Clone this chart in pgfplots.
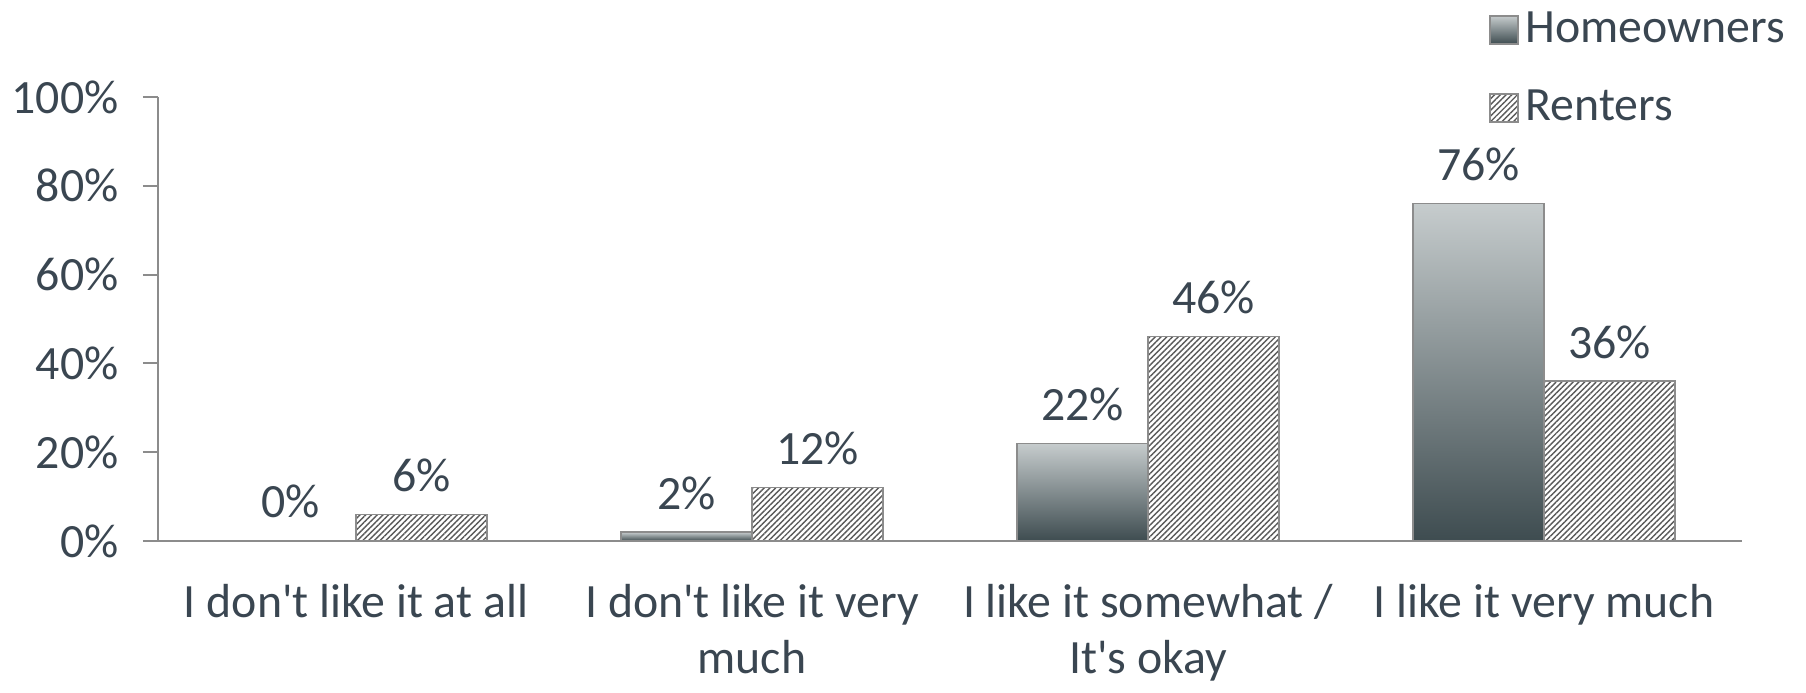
\documentclass[border=0pt]{standalone}
\usepackage{pgfplots}
\pgfplotsset{compat=1.18}
\usetikzlibrary{patterns.meta}
\usepackage{fontspec}
\setmainfont{Carlito}

\definecolor{txt}{HTML}{3A4651}
\definecolor{axisgray}{HTML}{8C8C8C}
\definecolor{barlight}{HTML}{C6CCCD}
\definecolor{bardark}{HTML}{3E4C50}

\pgfplotsset{
    owner/.style={draw=black!45, line width=0.4pt, top color=barlight, bottom color=bardark, bar shift=-6.55mm},
    renter/.style={draw=black!45, line width=0.4pt, fill=white,
        pattern={Lines[angle=45,distance=1.15pt,line width=0.4pt]}, pattern color=black!65,
        bar shift=6.55mm},
}

\begin{document}
\begin{tikzpicture}
\useasboundingbox (0,0) rectangle (180.6mm,69.2mm);
\begin{axis}[
    at={(15.8mm,15.1mm)}, anchor=south west,
    scale only axis,
    width=158.4mm, height=44.4mm,
    font=\fontsize{13.6}{16}\selectfont\color{txt},
    /pgf/number format/assume math mode=true,
    ybar, bar width=13.1mm,
    xmin=-0.5, xmax=3.5,
    ymin=0, ymax=100,
    ytick={0,20,40,60,80,100},
    yticklabel={\pgfmathprintnumber{\tick}\%},
    xtick={0,1,2,3},
    xticklabels={I don\textquotesingle t like it at all, I don\textquotesingle t like it very\\much, I like it somewhat /\\It\textquotesingle s okay, I like it very much},
    x tick label style={align=center, yshift=-1.6mm},
    extra x ticks={-0.5,0.5,1.5,2.5,3.5},
    extra x tick labels={},
    axis lines*=left,
    axis line style={axisgray, line width=0.6pt},
    tick style={axisgray, line width=0.6pt},
    tick align=outside,
    major tick length=1.5mm,
    xtick style={draw=none},
    extra x tick style={tick style={axisgray, draw=axisgray, line width=0.6pt}},
    y tick label style={xshift=-1.2mm},
    nodes near coords={\pgfmathprintnumber{\pgfplotspointmeta}\%},
    nodes near coords style={anchor=south, inner sep=0pt, yshift=2.2mm, font=\fontsize{13.6}{16}\selectfont, text=txt},
    legend style={at={(0.840,1.209)}, anchor=north west, draw=none, fill=none,
        font=\fontsize{13.6}{16}\selectfont, text=txt,
        row sep=2.8mm, inner sep=0pt,
        legend cell align=left},
    legend image code/.code={\draw[#1] (0mm,-1.4mm) rectangle (2.8mm,1.4mm);},
]
% Homeowners: one plot per bar so that each bar gets its own gradient
\addplot[owner] coordinates {(0,0)};
\addlegendentry{Homeowners}
\addplot[renter] coordinates {(0,6) (1,12) (2,46) (3,36)};
\addlegendentry{Renters}
\addplot[owner, forget plot] coordinates {(1,2)};
\addplot[owner, forget plot] coordinates {(2,22)};
\addplot[owner, forget plot] coordinates {(3,76)};
\end{axis}
\end{tikzpicture}
\end{document}
